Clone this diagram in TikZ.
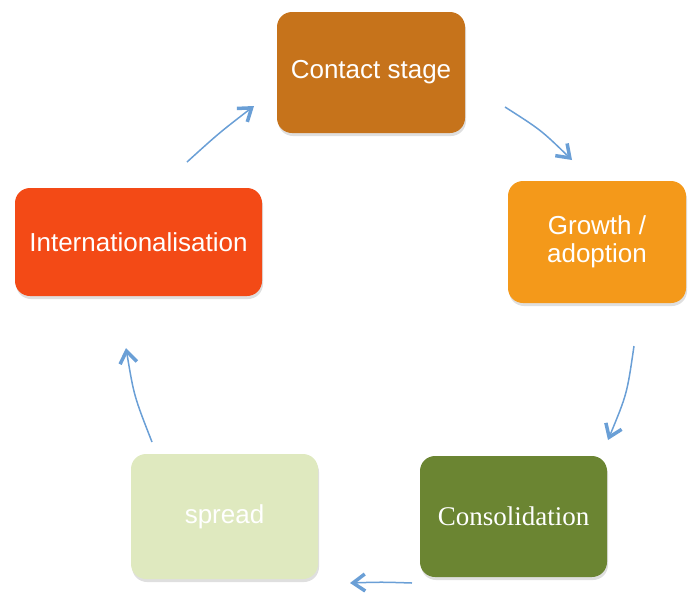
\documentclass[tikz,border=0pt]{standalone}
\usepackage{fontspec}
\setmainfont{Liberation Sans}
\newfontfamily\serifbox{Liberation Serif}
\usetikzlibrary{arrows.meta,shadows}
\definecolor{ccontact}{HTML}{C6731B}
\definecolor{cgrowth}{HTML}{F4991A}
\definecolor{cconsol}{HTML}{6B8532}
\definecolor{cspread}{HTML}{DFE9BF}
\definecolor{cintl}{HTML}{F34A16}
\definecolor{carrow}{HTML}{6A9FD6}
\tikzset{
  stagebox/.style={rectangle, rounded corners=15pt, draw=none, text=white,
    font=\fontsize{26}{28}\selectfont, align=center, inner sep=0pt,
    drop shadow={shadow xshift=1pt, shadow yshift=-3pt, opacity=0.25}},
  cyclearrow/.style={draw=carrow, line width=1.5pt,
    -{Straight Barb[length=12pt,width=17pt,line width=3.5pt]}}
}
\begin{document}
\begin{tikzpicture}[x=1pt,y=-1pt]
\useasboundingbox (0,0) rectangle (688,592);
\node[stagebox, fill=ccontact, minimum width=188pt, minimum height=121pt] (contact) at (371,72.5) {Contact stage};
\node[stagebox, fill=cgrowth, minimum width=178pt, minimum height=122pt] (growth) at (597,242) {Growth /\\adoption};
\node[stagebox, fill=cconsol, minimum width=187pt, minimum height=121pt, font=\serifbox\fontsize{27}{30}\selectfont] (consol) at (513.5,516.5) {Consolidation};
\node[stagebox, fill=cspread, minimum width=187pt, minimum height=125pt] (spread) at (224.5,516.5) {spread};
\node[stagebox, fill=cintl, minimum width=247pt, minimum height=108pt] (intl) at (138.5,242) {Internationalisation};
\coordinate (a1s) at (187,162); \coordinate (a1e) at (254,106);
\coordinate (a2s) at (505,107); \coordinate (a2e) at (572,160);
\coordinate (a3s) at (634,346); \coordinate (a3e) at (608,440);
\coordinate (a4s) at (412,583); \coordinate (a4e) at (350,583);
\coordinate (a5s) at (152,442); \coordinate (a5e) at (126,348);
\draw[cyclearrow] (a1s) .. controls (219,133) .. (a1e);
\draw[cyclearrow] (a2s) .. controls (541,130) .. (a2e);
\draw[cyclearrow] (a3s) .. controls (627,394) .. (a3e);
\draw[cyclearrow] (a4s) .. controls (381,582) .. (a4e);
\draw[cyclearrow] (a5s) .. controls (134,396) .. (a5e);
\end{tikzpicture}
\end{document}
